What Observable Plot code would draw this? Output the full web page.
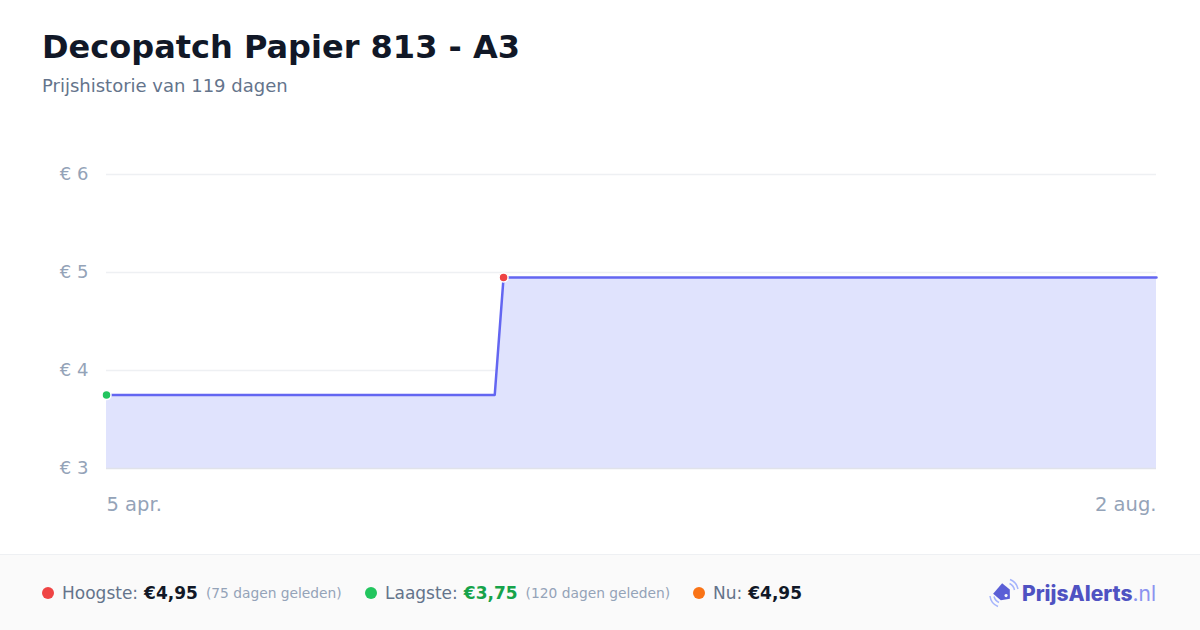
<!DOCTYPE html>
<html><head><meta charset="utf-8">
<script src="https://cdn.jsdelivr.net/npm/d3@7"></script>
<script src="https://cdn.jsdelivr.net/npm/@observablehq/plot@0.6"></script>
<style>
html,body{margin:0;padding:0;background:#fff;font-family:"DejaVu Sans",sans-serif;}
#wrap{width:1200px;height:630px;position:relative;overflow:hidden;}
#header{height:130px;position:relative;}
#title{position:absolute;left:42px;top:29px;font-size:32px;font-weight:bold;color:#111827;margin:0;line-height:1.15;}
#sub{position:absolute;left:42px;top:76px;font-size:18px;color:#64748b;line-height:1.15;}
#chart{height:424px;}
#footer{position:absolute;left:0;top:554px;width:1200px;height:76px;background:#fafafa;border-top:1px solid #eef0f3;box-sizing:border-box;}
.item{position:absolute;top:0;height:76px;display:flex;align-items:center;font-size:17px;color:#64748b;white-space:nowrap;}
.dot{width:12px;height:12px;border-radius:50%;display:inline-block;margin-right:8px;}
.val{font-weight:bold;color:#111827;margin-left:6px;}
.ago{font-size:13.8px;color:#94a3b8;margin-left:8px;}
#logo{position:absolute;left:988px;top:0;height:76px;display:flex;align-items:center;}
#logo .t{font-family:Inter,sans-serif;font-size:21px;font-weight:800;color:#4f52c2;}
#logo .n{font-family:Inter,sans-serif;font-size:21px;font-weight:400;color:#8b93f0;}
</style></head>
<body>
<div id="wrap">
  <div id="header">
    <div id="title">Decopatch Papier 813 - A3</div>
    <div id="sub">Prijshistorie van 119 dagen</div>
  </div>
  <div id="chart"></div>
  <div id="footer">
    <div class="item" style="left:42px"><span class="dot" style="background:#ef4444"></span>Hoogste:<span class="val">€4,95</span><span class="ago">(75 dagen geleden)</span></div>
    <div class="item" style="left:365px"><span class="dot" style="background:#22c55e"></span>Laagste:<span class="val" style="color:#16a34a">€3,75</span><span class="ago">(120 dagen geleden)</span></div>
    <div class="item" style="left:693px"><span class="dot" style="background:#f97316"></span>Nu:<span class="val">€4,95</span></div>
    <div id="logo">
      <svg width="32" height="32" viewBox="0 0 32 32" style="margin-right:2px">
        <g transform="rotate(40 15 16)">
          <path d="M8 9 L18 9 L24 16 L18 23 L8 23 Z" fill="#5b5fd6"/>
          <circle cx="19" cy="16" r="1.6" fill="#fafafa"/>
        </g>
        <path d="M22 2.5 A13 13 0 0 1 30 12" stroke="#a5b4fc" stroke-width="1.5" fill="none"/>
        <path d="M21.5 6.5 A9 9 0 0 1 26.5 13" stroke="#a5b4fc" stroke-width="1.5" fill="none"/>
        <path d="M2 19 A13 13 0 0 0 10 29.5" stroke="#a5b4fc" stroke-width="1.5" fill="none"/>
        <path d="M6 19.5 A9 9 0 0 0 11 25.5" stroke="#a5b4fc" stroke-width="1.5" fill="none"/>
      </svg>
      <span class="t">PrijsAlerts</span><span class="n">.nl</span>
    </div>
  </div>
</div>
<script>
const dates = ["2025-04-05", "2025-05-19", "2025-05-20", "2025-08-02"];
const prices = [3.75, 3.75, 4.95, 4.95];
const yTicks = [3, 4, 5, 6];
const xTickLabels = ["5 apr.", "2 aug."];
const highest = {date: "2025-05-20", price: 4.95};
const lowest = {date: "2025-04-05", price: 3.75};

const data = dates.map((d, i) => ({date: new Date(d + "T00:00:00"), price: prices[i]}));
const xStart = data[0].date, xEnd = data[data.length - 1].date;

const plot = Plot.plot({
  width: 1200,
  height: 424,
  marginLeft: 106,
  marginRight: 44,
  marginTop: 44,
  marginBottom: 86,
  style: {fontFamily: "DejaVu Sans, sans-serif", background: "transparent"},
  x: {type: "time", domain: [xStart, xEnd]},
  y: {domain: [3, 6]},
  marks: [
    Plot.ruleY(yTicks.slice(1), {stroke: "#eef0f3", strokeWidth: 1.5}),
    Plot.areaY(data, {x: "date", y1: 3, y2: "price", fill: "#e0e3fd"}),
    Plot.ruleY([3], {stroke: "#e0e2ea", strokeWidth: 1.5}),
    Plot.lineY(data, {x: "date", y: "price", stroke: "#6366f1", strokeWidth: 2.5}),
    Plot.axisY(yTicks, {tickSize: 0, tickPadding: 18, tickFormat: d => "€ " + d, fontSize: 18, color: "#94a3b8", label: null}),
    Plot.axisX([xStart], {tickSize: 0, tickPadding: 29, tickFormat: () => xTickLabels[0], textAnchor: "start", fontSize: 19.5, color: "#94a3b8", label: null}),
    Plot.axisX([xEnd], {tickSize: 0, tickPadding: 29, tickFormat: () => xTickLabels[1], textAnchor: "end", fontSize: 19.5, color: "#94a3b8", label: null}),
    Plot.dot([highest], {x: d => new Date(d.date + "T00:00:00"), y: "price", r: 4.5, fill: "#ef4444", stroke: "#fff", strokeWidth: 1.5}),
    Plot.dot([lowest], {x: d => new Date(d.date + "T00:00:00"), y: "price", r: 4.5, fill: "#22c55e", stroke: "#fff", strokeWidth: 1.5})
  ]
});
document.getElementById("chart").appendChild(plot);
</script>
</body></html>
